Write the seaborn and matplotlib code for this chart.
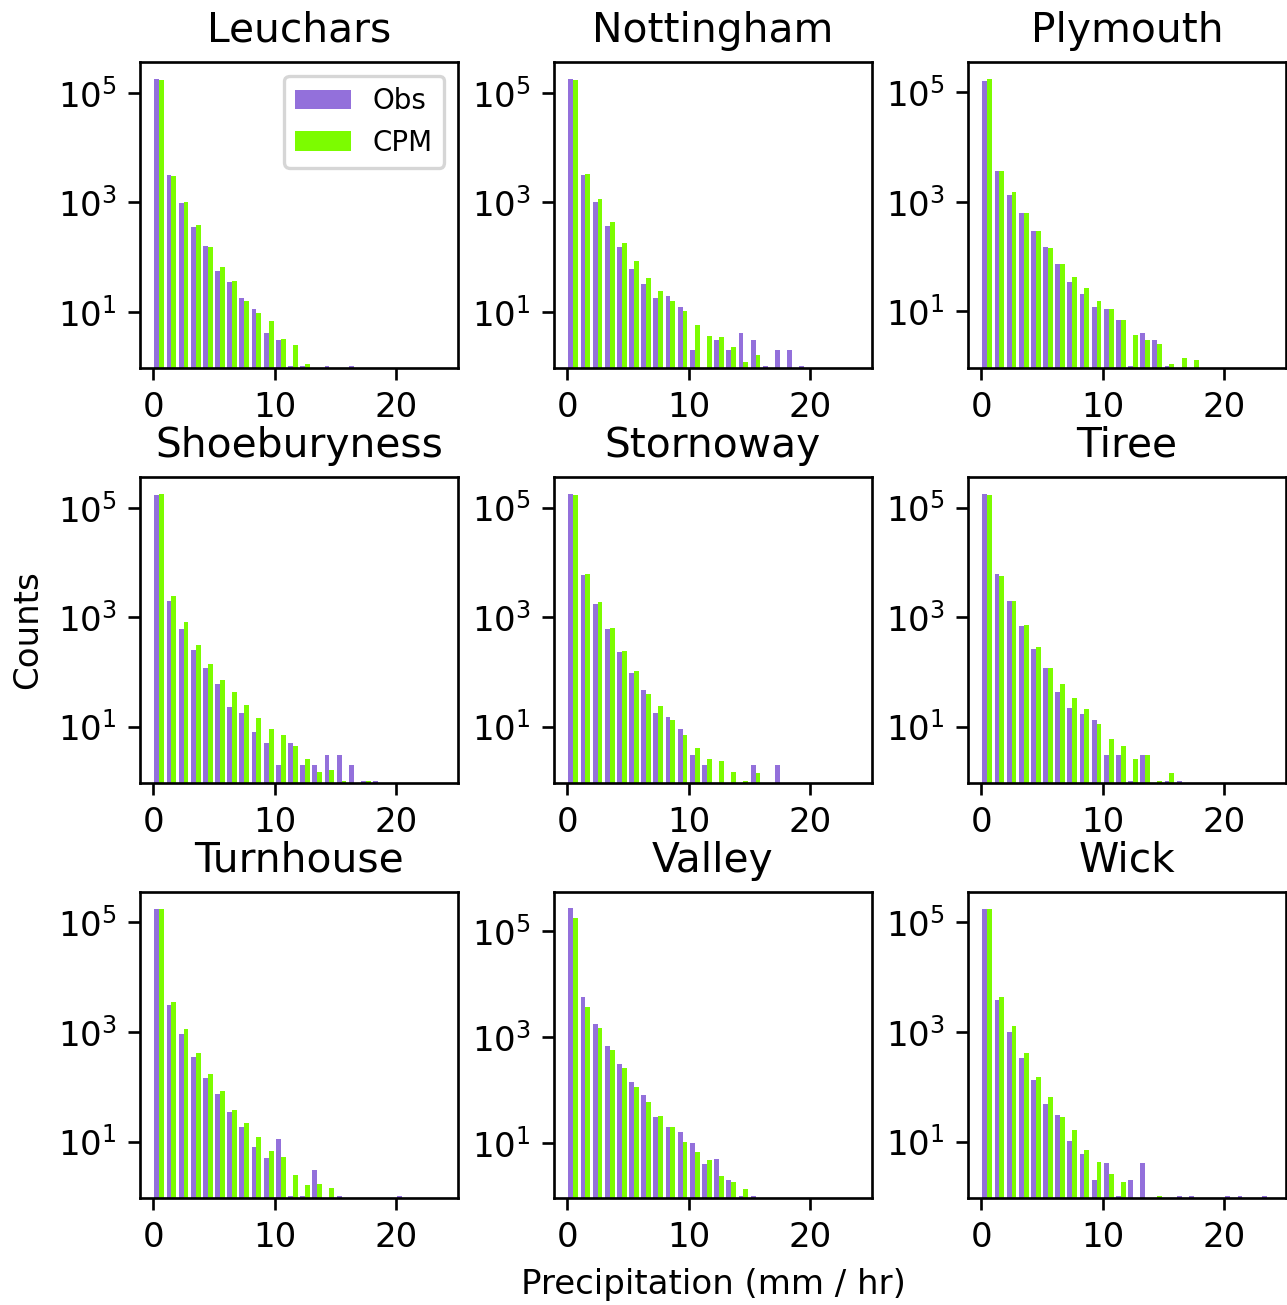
import numpy as np
import pandas as pd
import matplotlib
matplotlib.use("Agg")
import matplotlib.pyplot as plt
from matplotlib.ticker import NullLocator
import seaborn as sns

plt.rcParams["font.family"] = ["DejaVu Sans"]
plt.rcParams["font.size"] = 10.2

# Hourly precipitation histograms, 1 mm/hr bins from 0 to 24 mm/hr
bin_edges = [float(b) for b in range(0, 25)]

stations = ["Leuchars", "Nottingham", "Plymouth",
            "Shoeburyness", "Stornoway", "Tiree",
            "Turnhouse", "Valley", "Wick"]

# counts per bin (first entry = 0-1 mm/hr bin)
leuchars_obs = [183000, 3120, 960, 354, 159, 56, 35, 18, 11, 4, 3, 1, 1, 0, 1, 0, 1]
leuchars_cpm = [173000, 2990, 1000, 380, 155, 67, 36, 16, 9.5, 6.8, 3.1, 2.5, 1.1]

nottingham_obs = [183000, 3210, 1000, 369, 150, 61, 32.5, 18, 19.6, 12, 2, 0, 3, 2, 4, 3, 1, 2, 2, 1]
nottingham_cpm = [173000, 3340, 1180, 437, 178, 86, 42, 24, 16, 10.4, 5.6, 3.6, 3.5, 2.3, 1.2, 1.6]

plymouth_obs = [160700, 3640, 1330, 627, 299, 153, 75, 34, 21, 12.3, 11.2, 7, 1, 4, 3, 1]
plymouth_cpm = [175000, 3640, 1490, 627, 299, 144, 75, 43, 26.6, 15.8, 11.2, 6.9, 3.8, 3.0, 2.5, 1.1, 1.4, 1.3]

shoeburyness_obs = [173000, 1940, 612, 249, 117, 59, 23, 18, 8, 5, 2, 5, 2, 2, 3, 3, 2, 1, 1]
shoeburyness_cpm = [178000, 2420, 811, 308, 138, 72, 42, 24.5, 14.2, 9.1, 7.1, 4.4, 2.6, 1.5, 1.6, 1, 0, 1]

stornoway_obs = [177000, 5830, 1700, 596, 230, 94, 47, 18, 15, 9, 3, 2, 0, 0, 0, 2, 0, 2]
stornoway_cpm = [168000, 6080, 1880, 621, 237, 104, 40, 23.5, 12.9, 7.0, 4.1, 2.6, 2.3, 1.5, 1, 1.4]

tiree_obs = [177000, 6080, 1960, 695, 261, 119, 43, 22, 17, 13, 3, 3, 1, 3, 0, 1, 1]
tiree_cpm = [168000, 5680, 1960, 714, 280, 119, 60, 33, 21, 11, 5.8, 4.5, 2.5, 3, 1, 1.4]

turnhouse_obs = [177000, 3100, 933, 355, 145, 73, 35, 18.5, 8, 5, 11, 1, 1, 3, 0, 1, 0, 0, 0, 0, 1]
turnhouse_cpm = [177000, 3520, 1150, 420, 174, 84, 38, 22, 12.2, 6.8, 5.3, 2.4, 1.6, 1.7, 1.4]

valley_obs = [265000, 5690, 1750, 690, 315, 141, 80, 31, 20, 16, 10, 4, 5, 2, 1, 1]
valley_cpm = [174000, 3730, 1450, 579, 256, 117, 61, 33, 20, 10.6, 6.9, 4.9, 2.4, 1.9, 1.4]

wick_obs = [177000, 3840, 1010, 336, 135, 48, 30, 10.3, 6, 2, 4, 1, 2, 4, 0, 0, 1, 1, 0, 0, 1, 1, 0, 1]
wick_cpm = [177000, 4410, 1270, 420, 151, 66, 28.6, 15.9, 7.1, 4.3, 2.6, 1.8, 0, 0, 1]

station_counts = {
    "Leuchars": (leuchars_obs, leuchars_cpm),
    "Nottingham": (nottingham_obs, nottingham_cpm),
    "Plymouth": (plymouth_obs, plymouth_cpm),
    "Shoeburyness": (shoeburyness_obs, shoeburyness_cpm),
    "Stornoway": (stornoway_obs, stornoway_cpm),
    "Tiree": (tiree_obs, tiree_cpm),
    "Turnhouse": (turnhouse_obs, turnhouse_cpm),
    "Valley": (valley_obs, valley_cpm),
    "Wick": (wick_obs, wick_cpm),
}

sources = ["Obs", "CPM"]
palette = {"Obs": "mediumpurple", "CPM": "lawngreen"}

n_bins = len(bin_edges) - 1
centres = [b + 0.5 for b in bin_edges[:-1]]
rows = []
for name, series in station_counts.items():
    for src, counts in zip(sources, series):
        full = np.zeros(n_bins)
        full[:len(counts)] = counts
        for c, w in zip(centres, full):
            rows.append({"station": name, "source": src, "precip": c, "count": w})
df = pd.DataFrame(rows)

fig, axes = plt.subplots(3, 3, figsize=(5.3625, 5.4375), dpi=240)
fig.subplots_adjust(left=0.1088, right=0.9992, bottom=0.0820, top=0.9525,
                    wspace=0.302, hspace=0.356)

for i, (ax, name) in enumerate(zip(axes.flat, stations)):
    sub = df[df["station"] == name].reset_index(drop=True)
    sns.histplot(data=sub, x="precip", weights="count", hue="source",
                 hue_order=sources, palette=palette, bins=bin_edges,
                 multiple="dodge", shrink=0.8, linewidth=0, alpha=1,
                 ax=ax, legend=(i == 0))
    ax.set_yscale("log")
    ymax = sub["count"].max()
    ax.set_ylim(0.93, ymax * 2.04)
    ax.set_xlim(-1.09, 25.09)
    ax.set_yticks([1e1, 1e3, 1e5])
    ax.yaxis.set_minor_locator(NullLocator())
    ax.set_xticks([0, 10, 20])
    ax.set_title(name, fontsize="large")
    ax.set_xlabel("")
    ax.set_ylabel("")

sns.move_legend(axes[0, 0], "upper right", title=None, fontsize=8.33)

axes[1, 0].set_ylabel("Counts")
axes[2, 1].set_xlabel("Precipitation (mm / hr)")

fig.savefig("out.png", dpi=240)
